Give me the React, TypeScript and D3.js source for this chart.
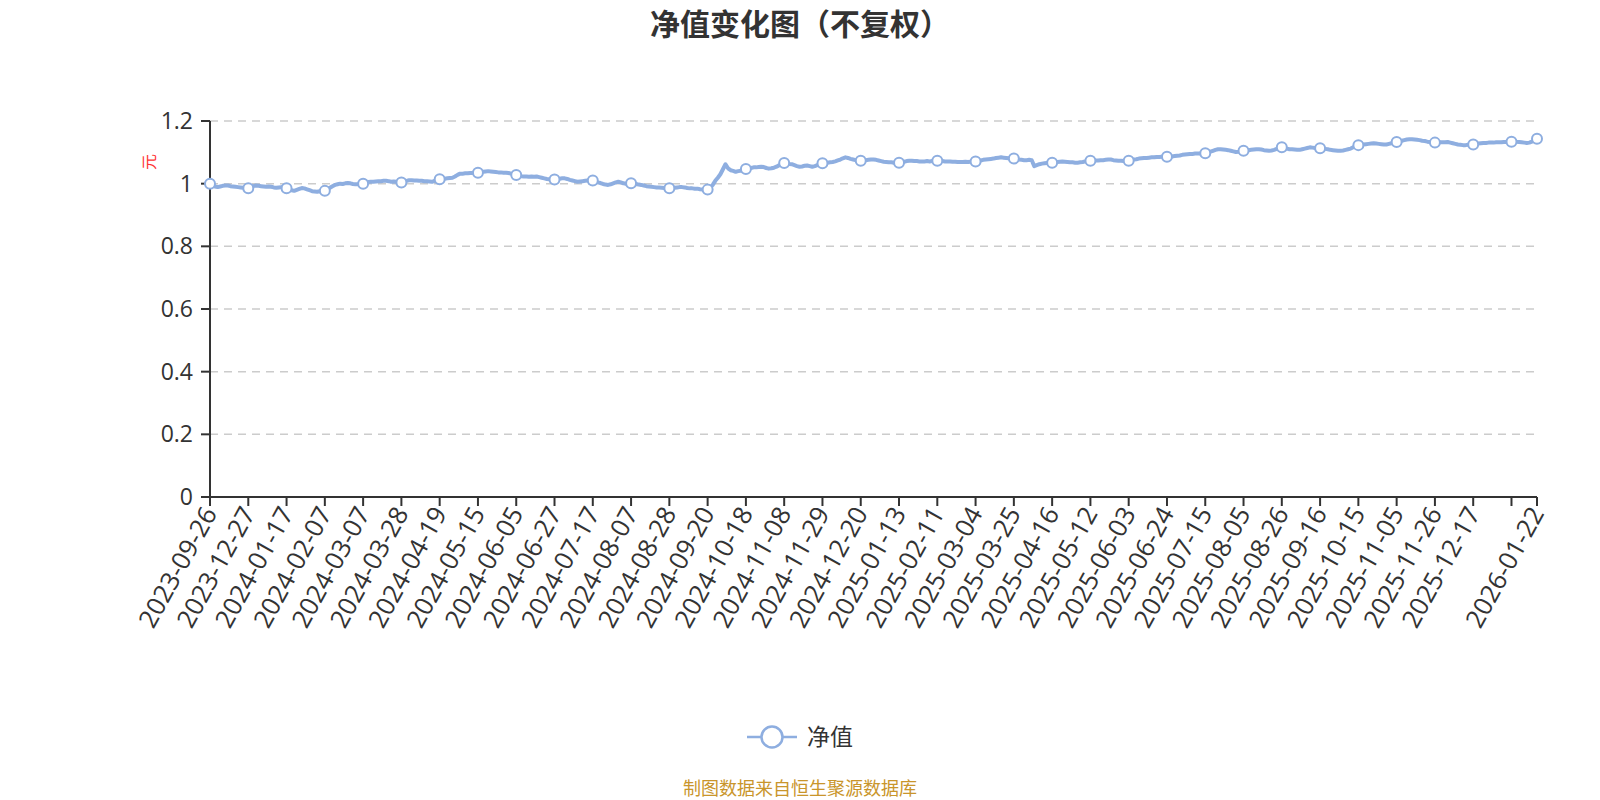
import React from "react";
import * as d3 from "d3";

const title = "净值变化图（不复权）";
const seriesName = "净值";
const yAxisName = "元";
const footer = "制图数据来自恒生聚源数据库";

const labelDates = [
  "2023-09-26", "2023-12-27", "2024-01-17", "2024-02-07", "2024-03-07", "2024-03-28",
  "2024-04-19", "2024-05-15", "2024-06-05", "2024-06-27", "2024-07-17", "2024-08-07",
  "2024-08-28", "2024-09-20", "2024-10-18", "2024-11-08", "2024-11-29", "2024-12-20",
  "2025-01-13", "2025-02-11", "2025-03-04", "2025-03-25", "2025-04-16", "2025-05-12",
  "2025-06-03", "2025-06-24", "2025-07-15", "2025-08-05", "2025-08-26", "2025-09-16",
  "2025-10-15", "2025-11-05", "2025-11-26", "2025-12-17",
];
const lastLabel = "2026-01-22";
const labelEvery = 15;

const yTicks = [0, 0.2, 0.4, 0.6, 0.8, 1, 1.2];

// NAV values, one per trading-day category (rows of 15)
const nav = [
  1.000, 0.996, 0.991, 0.989, 0.991, 0.993, 0.994, 0.994, 0.992, 0.991, 0.990, 0.989, 0.988, 0.987, 0.986,
  0.985, 0.989, 0.992, 0.994, 0.993, 0.992, 0.991, 0.990, 0.991, 0.990, 0.988, 0.987, 0.988, 0.989, 0.987,
  0.985, 0.982, 0.979, 0.977, 0.980, 0.983, 0.986, 0.985, 0.982, 0.979, 0.976, 0.975, 0.974, 0.976, 0.975,
  0.977, 0.982, 0.987, 0.992, 0.996, 0.998, 1.000, 0.999, 1.001, 1.002, 1.001, 0.999, 0.998, 0.998, 1.000,
  1.000, 1.003, 1.005, 1.006, 1.006, 1.007, 1.008, 1.008, 1.009, 1.009, 1.008, 1.006, 1.007, 1.006, 1.005,
  1.004, 1.006, 1.009, 1.011, 1.011, 1.010, 1.010, 1.009, 1.009, 1.008, 1.008, 1.007, 1.006, 1.009, 1.012,
  1.014, 1.015, 1.016, 1.017, 1.018, 1.019, 1.023, 1.028, 1.032, 1.032, 1.033, 1.033, 1.034, 1.034, 1.035,
  1.035, 1.037, 1.038, 1.039, 1.040, 1.039, 1.038, 1.037, 1.036, 1.036, 1.035, 1.035, 1.034, 1.032, 1.030,
  1.028, 1.026, 1.024, 1.023, 1.023, 1.022, 1.023, 1.022, 1.023, 1.021, 1.019, 1.017, 1.015, 1.014, 1.014,
  1.013, 1.014, 1.016, 1.017, 1.017, 1.015, 1.012, 1.010, 1.008, 1.006, 1.007, 1.008, 1.009, 1.010, 1.010,
  1.010, 1.007, 1.004, 1.002, 0.999, 0.997, 0.996, 0.998, 1.001, 1.004, 1.006, 1.004, 1.001, 1.000, 1.001,
  1.001, 1.000, 0.999, 0.997, 0.996, 0.994, 0.992, 0.991, 0.990, 0.989, 0.988, 0.988, 0.987, 0.986, 0.985,
  0.985, 0.986, 0.987, 0.988, 0.989, 0.989, 0.988, 0.986, 0.985, 0.985, 0.984, 0.984, 0.982, 0.981, 0.980,
  0.981, 0.987, 0.996, 1.009, 1.019, 1.030, 1.046, 1.062, 1.049, 1.043, 1.041, 1.038, 1.040, 1.041, 1.043,
  1.047, 1.048, 1.050, 1.052, 1.052, 1.053, 1.054, 1.053, 1.050, 1.048, 1.049, 1.051, 1.054, 1.059, 1.063,
  1.066, 1.065, 1.063, 1.062, 1.059, 1.056, 1.054, 1.055, 1.057, 1.058, 1.056, 1.054, 1.056, 1.059, 1.062,
  1.065, 1.066, 1.067, 1.068, 1.069, 1.071, 1.074, 1.077, 1.081, 1.084, 1.082, 1.079, 1.077, 1.075, 1.074,
  1.073, 1.074, 1.075, 1.076, 1.077, 1.077, 1.076, 1.074, 1.072, 1.070, 1.069, 1.068, 1.068, 1.067, 1.067,
  1.067, 1.068, 1.070, 1.072, 1.073, 1.073, 1.072, 1.072, 1.071, 1.071, 1.071, 1.072, 1.071, 1.072, 1.073,
  1.073, 1.072, 1.072, 1.071, 1.071, 1.071, 1.070, 1.070, 1.069, 1.069, 1.069, 1.070, 1.069, 1.070, 1.071,
  1.071, 1.072, 1.074, 1.076, 1.077, 1.078, 1.079, 1.080, 1.082, 1.083, 1.084, 1.083, 1.082, 1.081, 1.080,
  1.080, 1.079, 1.077, 1.076, 1.075, 1.075, 1.076, 1.075, 1.056, 1.059, 1.062, 1.064, 1.065, 1.066, 1.066,
  1.067, 1.068, 1.069, 1.070, 1.071, 1.070, 1.069, 1.068, 1.068, 1.067, 1.067, 1.068, 1.069, 1.071, 1.072,
  1.073, 1.074, 1.074, 1.074, 1.075, 1.075, 1.076, 1.077, 1.077, 1.075, 1.074, 1.073, 1.073, 1.072, 1.073,
  1.073, 1.075, 1.077, 1.078, 1.080, 1.081, 1.082, 1.082, 1.083, 1.084, 1.084, 1.085, 1.085, 1.086, 1.086,
  1.086, 1.087, 1.087, 1.088, 1.089, 1.090, 1.092, 1.093, 1.094, 1.095, 1.095, 1.096, 1.096, 1.096, 1.097,
  1.097, 1.099, 1.102, 1.105, 1.108, 1.110, 1.110, 1.109, 1.108, 1.107, 1.105, 1.103, 1.101, 1.102, 1.104,
  1.105, 1.106, 1.107, 1.108, 1.109, 1.110, 1.110, 1.109, 1.107, 1.106, 1.105, 1.106, 1.108, 1.111, 1.114,
  1.116, 1.114, 1.112, 1.110, 1.110, 1.109, 1.108, 1.108, 1.110, 1.112, 1.114, 1.116, 1.115, 1.114, 1.113,
  1.113, 1.112, 1.111, 1.110, 1.108, 1.107, 1.106, 1.105, 1.105, 1.106, 1.108, 1.110, 1.112, 1.116, 1.120,
  1.123, 1.124, 1.125, 1.126, 1.127, 1.128, 1.129, 1.128, 1.127, 1.126, 1.125, 1.125, 1.127, 1.129, 1.131,
  1.133, 1.135, 1.137, 1.139, 1.141, 1.142, 1.142, 1.141, 1.140, 1.139, 1.137, 1.136, 1.134, 1.133, 1.132,
  1.131, 1.131, 1.132, 1.132, 1.132, 1.133, 1.131, 1.129, 1.127, 1.125, 1.124, 1.123, 1.123, 1.124, 1.125,
  1.125, 1.127, 1.128, 1.129, 1.130, 1.130, 1.131, 1.131, 1.131, 1.132, 1.132, 1.132, 1.133, 1.133, 1.134,
  1.134, 1.136, 1.134, 1.133, 1.132, 1.131, 1.130, 1.131, 1.134, 1.139, 1.143,
];

const LINE = "#8eaee0";
const AXIS = "#333333";
const LATIN = "'Open Sans', 'Noto Sans CJK SC', sans-serif";
const CJK = "'Noto Sans CJK SC', sans-serif";

export default function App() {
  const W = 1600;
  const H = 800;
  const left = 210;
  const right = 1537;
  const top = 121;
  const bottom = 497;
  const N = nav.length;

  const x = d3.scaleLinear().domain([0, N - 1]).range([left, right]);
  const y = d3.scaleLinear().domain([0, 1.2]).range([bottom, top]);

  const line = d3
    .line<number>()
    .x((_, i) => x(i))
    .y((d) => y(d))
    .curve(d3.curveLinear);

  const tickIdx = d3.range(0, N, labelEvery).concat([N - 1]);
  const markerIdx = nav.map((_, i) => i).filter((i) => i % labelEvery === 0 || i === N - 1);
  const labels: { i: number; t: string }[] = labelDates.map((t, k) => ({ i: k * labelEvery, t }));
  labels.push({ i: N - 1, t: lastLabel });

  const rot = -61;

  return (
    <svg
      width={W}
      height={H}
      style={{ position: "absolute", left: 0, top: 0, background: "#fff" }}
    >
      <text
        x={800}
        y={35}
        textAnchor="middle"
        fontFamily={CJK}
        fontWeight="bold"
        fontSize={30}
        fill="#333"
      >
        {title}
      </text>

      {/* grid */}
      {yTicks
        .filter((v) => v > 0)
        .map((v) => (
          <line
            key={"g" + v}
            x1={left}
            x2={right}
            y1={y(v)}
            y2={y(v)}
            stroke="#cccccc"
            strokeWidth={1.5}
            strokeDasharray="8,6"
          />
        ))}

      {/* y axis */}
      <line x1={left} x2={left} y1={top} y2={bottom} stroke={AXIS} strokeWidth={2} />
      {yTicks.map((v) => (
        <g key={"y" + v}>
          <line x1={left - 9} x2={left} y1={y(v)} y2={y(v)} stroke={AXIS} strokeWidth={2} />
          <text
            x={left - 17}
            y={y(v)}
            dy="0.35em"
            textAnchor="end"
            fontFamily={LATIN}
            fontSize={23}
            fill="#333"
          >
            {String(v)}
          </text>
        </g>
      ))}
      <text
        transform={`translate(149,162) rotate(-90)`}
        textAnchor="middle"
        dy="0.35em"
        fontFamily={CJK}
        fontSize={16}
        fill="#ff3333"
      >
        {yAxisName}
      </text>

      {/* x axis */}
      <line x1={left} x2={right} y1={bottom} y2={bottom} stroke={AXIS} strokeWidth={2} />
      {tickIdx.map((i) => (
        <line
          key={"t" + i}
          x1={x(i)}
          x2={x(i)}
          y1={bottom}
          y2={bottom + 9}
          stroke={AXIS}
          strokeWidth={2}
        />
      ))}
      {labels.map((l) => (
        <text
          key={"l" + l.i}
          transform={`translate(${x(l.i)},${bottom + 12}) rotate(${rot})`}
          textAnchor="end"
          dy="0.35em"
          fontFamily={LATIN}
          fontSize={25.5}
          fill="#333"
        >
          {l.t}
        </text>
      ))}

      {/* series */}
      <path
        d={line(nav) || ""}
        fill="none"
        stroke={LINE}
        strokeWidth={4}
        strokeLinejoin="round"
      />
      {markerIdx.map((i) => (
        <circle
          key={"m" + i}
          cx={x(i)}
          cy={y(nav[i])}
          r={5}
          fill="#fff"
          stroke={LINE}
          strokeWidth={2}
        />
      ))}

      {/* legend */}
      <line x1={747} x2={797} y1={737} y2={737} stroke={LINE} strokeWidth={2.5} />
      <circle cx={772} cy={737} r={10.5} fill="#fff" stroke={LINE} strokeWidth={2.5} />
      <text
        x={807}
        y={737}
        dy="0.35em"
        fontFamily={CJK}
        fontSize={23}
        fill="#333"
      >
        {seriesName}
      </text>

      {/* footer */}
      <text
        x={800}
        y={789}
        dy="0.35em"
        textAnchor="middle"
        fontFamily={CJK}
        fontSize={18}
        fill="#c9952b"
      >
        {footer}
      </text>
    </svg>
  );
}
